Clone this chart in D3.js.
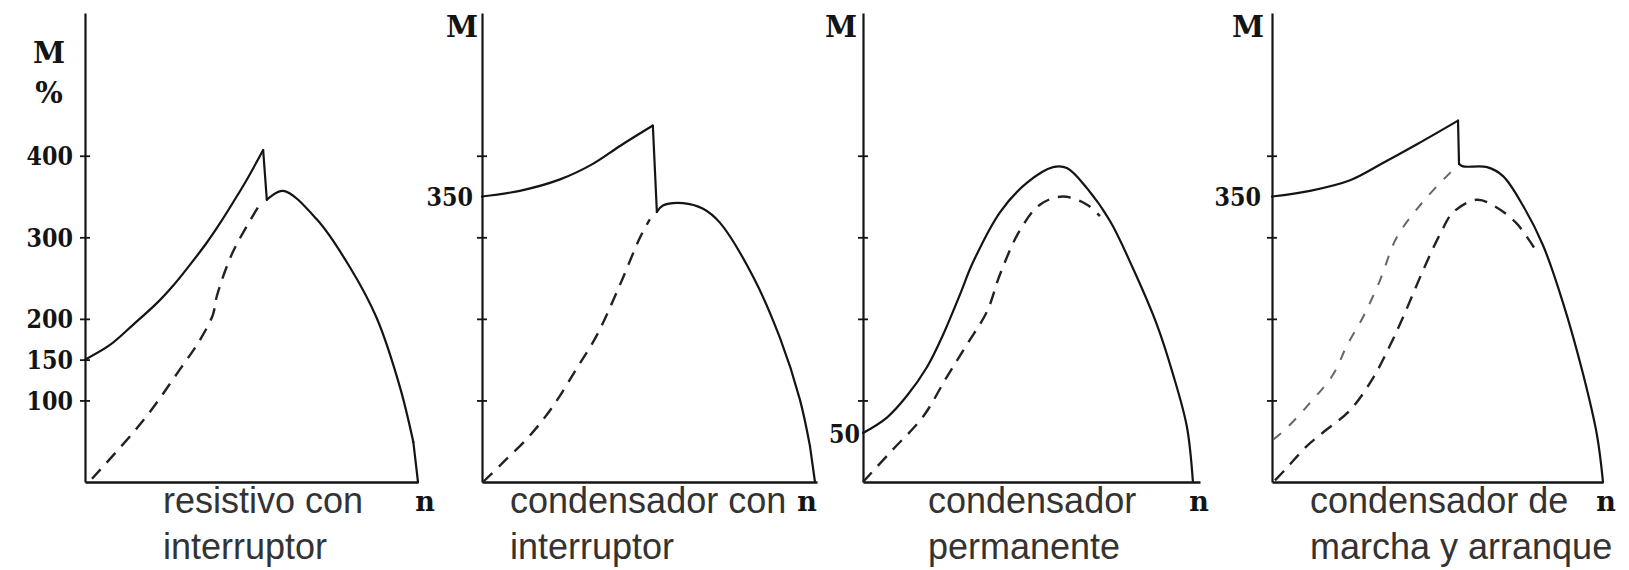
<!DOCTYPE html>
<html>
<head>
<meta charset="utf-8">
<title>Par - velocidad, motores monofasicos</title>
<script src="https://cdnjs.cloudflare.com/ajax/libs/d3/7.8.5/d3.min.js"></script>
<style>
body { margin: 0; background: #fff; }
svg { display: block; }
</style>
</head>
<body>
<svg width="1629" height="570"></svg>
<script>
// [n (% of synchronous speed), M (% of rated torque)]
var resistivoSolid = [[0,150],[7.5,168],[14.5,193],[21.5,219],[26.5,241],[30.5,261],[36.5,293],
  [40.5,317],[44.5,343],[48.5,370],[53.5,407],[54.6,346],[59.5,357],[69.6,322],[79.6,263],
  [87.6,201],[94.6,116],[98.6,49],[100,0]];
var resistivoDashed = [[2.1,4],[17.4,75],[28.5,138],[34.5,174],[38.4,205],[39.6,228],[44.4,282],[52,337]];

var condConSolid = [[0,350],[11.3,357],[23.3,371],[33.1,390],[41.2,412],[51,437],[52.2,331],
  [54,339],[60,342],[66,335],[71,318],[80.9,252],[89,176],[94.9,101],[97.9,44],[99.4,0]];
var condConDashed = [[0.3,0],[6.3,24],[14.3,57],[21.2,93],[28.4,140],[34.3,180],[41.2,242],[47.2,300],[50.1,322]];

var permanenteSolid = [[0,60],[7.1,79],[13.1,106],[19,141],[23.7,180],[28.8,230],[32.6,269],
  [40.7,331],[48.7,367],[56.4,386],[60.5,385],[66.5,360],[73.3,320],[80.1,262],[87.2,193],
  [92,132],[96.1,68],[97.9,0]];
var permanenteDashed = [[0,0],[8.9,40],[17.8,80],[24.9,129],[30.9,169],[36.8,209],[40.7,255],
  [46.6,309],[52.5,340],[59.3,350],[66.5,340],[70.3,326]];

var marchaSolid = [[0,350],[11.5,357],[23.6,370],[33.5,391],[43.8,414],[56.2,443],[56.5,390],
  [57.7,387],[65,386],[69.8,375],[75.8,339],[81.9,290],[87.9,220],[94,132],[98.2,57],[100,0]];
var arranqueDashed = [[0.4,52],[4.4,66],[11.5,97],[18.5,132],[22.6,167],[27.6,203],[32.6,247],
  [37.7,300],[45.7,344],[53.8,379],[56.3,388]];
var marchaDashed = [[0.9,2],[4.4,17],[10.5,44],[15.5,61],[23.6,88],[30.6,128],[35.6,167],[39.7,203],
  [45.7,260],[50.8,304],[54.8,331],[61.8,346],[66.9,339],[73.9,317],[80,282]];

var axisTicks = [[100,150,200,300,400],[100,200,300,400],[100,200,300,400],[100,200,300,400]];
var tickLabelValues = [[100,150,200,300,400],[350],[60],[350]];
var tickLabelTexts = [["100","150","200","300","400"],["350"],["50"],["350"]];
var yTitles = [["M","%"],["M"],["M"],["M"]];
var captions = [["resistivo con","interruptor"],["condensador con","interruptor"],
  ["condensador","permanente"],["condensador de","marcha y arranque"]];

var solidSeries = [resistivoSolid, condConSolid, permanenteSolid, marchaSolid];
var dashedSeries = [[resistivoDashed],[condConDashed],[permanenteDashed],[marchaDashed, arranqueDashed]];

// page layout of the four small panels
var layout = [
  {left: 85,   right: 418,  labelGap: 12, mX: 49,   mY: 52, nX: 425,  capX: 163},
  {left: 482,  right: 817,  labelGap: 9,  mX: 462,  mY: 26, nX: 807,  capX: 510},
  {left: 863,  right: 1200, labelGap: 3,  mX: 841,  mY: 26, nX: 1199, capX: 928},
  {left: 1272, right: 1603, labelGap: 11, mX: 1248, mY: 26, nX: 1606, capX: 1310}
];

var svg = d3.select("svg");
var ink = "#141414";
var y = d3.scaleLinear().domain([0, 575]).range([482, 13]);

// break a curve where the switch drops the torque almost vertically
function pieces(series){
  var out = [], start = 0;
  for (var k = 0; k < series.length - 1; k++){
    if (series[k + 1][0] - series[k][0] < 1.6 && series[k][1] - series[k + 1][1] > 30){
      out.push(series.slice(start, k + 1));
      out.push([series[k], series[k + 1]]);
      start = k + 1;
    }
  }
  out.push(series.slice(start));
  return out;
}

layout.forEach(function(p, i){
  var x = d3.scaleLinear().domain([0, 100]).range([p.left, p.right]);
  var g = svg.append("g");

  // y axis with ticks crossing the line
  var ya = g.append("g")
      .attr("transform", "translate(" + p.left + ",0)")
      .call(d3.axisLeft(y).tickValues(axisTicks[i]).tickSizeInner(5).tickSizeOuter(0)
        .tickFormat(function(){ return ""; }));
  ya.selectAll(".tick line").attr("x1", 5).attr("stroke", ink).attr("stroke-width", 1.8);
  ya.select(".domain").attr("stroke", ink).attr("stroke-width", 2.2);

  // x axis, no ticks
  var xa = g.append("g")
      .attr("transform", "translate(0," + y(0) + ")")
      .call(d3.axisBottom(x).tickValues([]).tickSizeOuter(0));
  xa.select(".domain").attr("stroke", ink).attr("stroke-width", 2.4);

  // tick labels
  g.selectAll("text.tl")
      .data(tickLabelValues[i])
    .enter().append("text")
      .attr("class", "tl")
      .attr("x", p.left - p.labelGap)
      .attr("y", function(d){ return y(d); })
      .attr("dy", "0.37em")
      .attr("text-anchor", "end")
      .attr("font-family", "DejaVu Serif")
      .attr("font-weight", "bold")
      .attr("font-size", 26)
      .attr("fill", ink)
      .attr("lengthAdjust", "spacingAndGlyphs")
      .attr("textLength", function(d, j){ return tickLabelTexts[i][j].length * 15.5; })
      .text(function(d, j){ return tickLabelTexts[i][j]; });

  // M / % title
  g.selectAll("text.yt")
      .data(yTitles[i])
    .enter().append("text")
      .attr("class", "yt")
      .attr("x", p.mX)
      .attr("y", function(d, j){ return p.mY + j * 40; })
      .attr("dy", "0.37em")
      .attr("text-anchor", "middle")
      .attr("font-family", "DejaVu Serif")
      .attr("font-weight", "bold")
      .attr("font-size", 29)
      .attr("fill", ink)
      .text(function(d){ return d; });

  g.append("text")
      .attr("x", p.nX)
      .attr("y", 511)
      .attr("text-anchor", "middle")
      .attr("font-family", "DejaVu Serif")
      .attr("font-weight", "bold")
      .attr("font-size", 27)
      .attr("fill", ink)
      .text("n");

  g.selectAll("text.cap")
      .data(captions[i])
    .enter().append("text")
      .attr("class", "cap")
      .attr("x", p.capX)
      .attr("y", function(d, j){ return 513 + j * 46; })
      .attr("font-family", "Liberation Sans")
      .attr("font-size", 36)
      .attr("fill", "#333")
      .text(function(d){ return d; });

  var line = d3.line()
      .x(function(d){ return x(d[0]); })
      .y(function(d){ return y(d[1]); })
      .curve(d3.curveCatmullRom.alpha(0.5));

  g.selectAll("path.dash")
      .data(dashedSeries[i])
    .enter().append("path")
      .attr("class", "dash")
      .attr("d", line)
      .attr("fill", "none")
      .attr("stroke", function(d, j){ return j ? "#666" : "#222"; })
      .attr("stroke-width", function(d, j){ return j ? 2 : 2.4; })
      .attr("stroke-dasharray", function(d, j){ return j ? "10,11" : "13,9"; });

  g.selectAll("path.solid")
      .data(pieces(solidSeries[i]))
    .enter().append("path")
      .attr("class", "solid")
      .attr("d", line)
      .attr("fill", "none")
      .attr("stroke", ink)
      .attr("stroke-width", 2.2)
      .attr("stroke-linejoin", "round")
      .attr("stroke-linecap", "round");
});
</script>
</body>
</html>
